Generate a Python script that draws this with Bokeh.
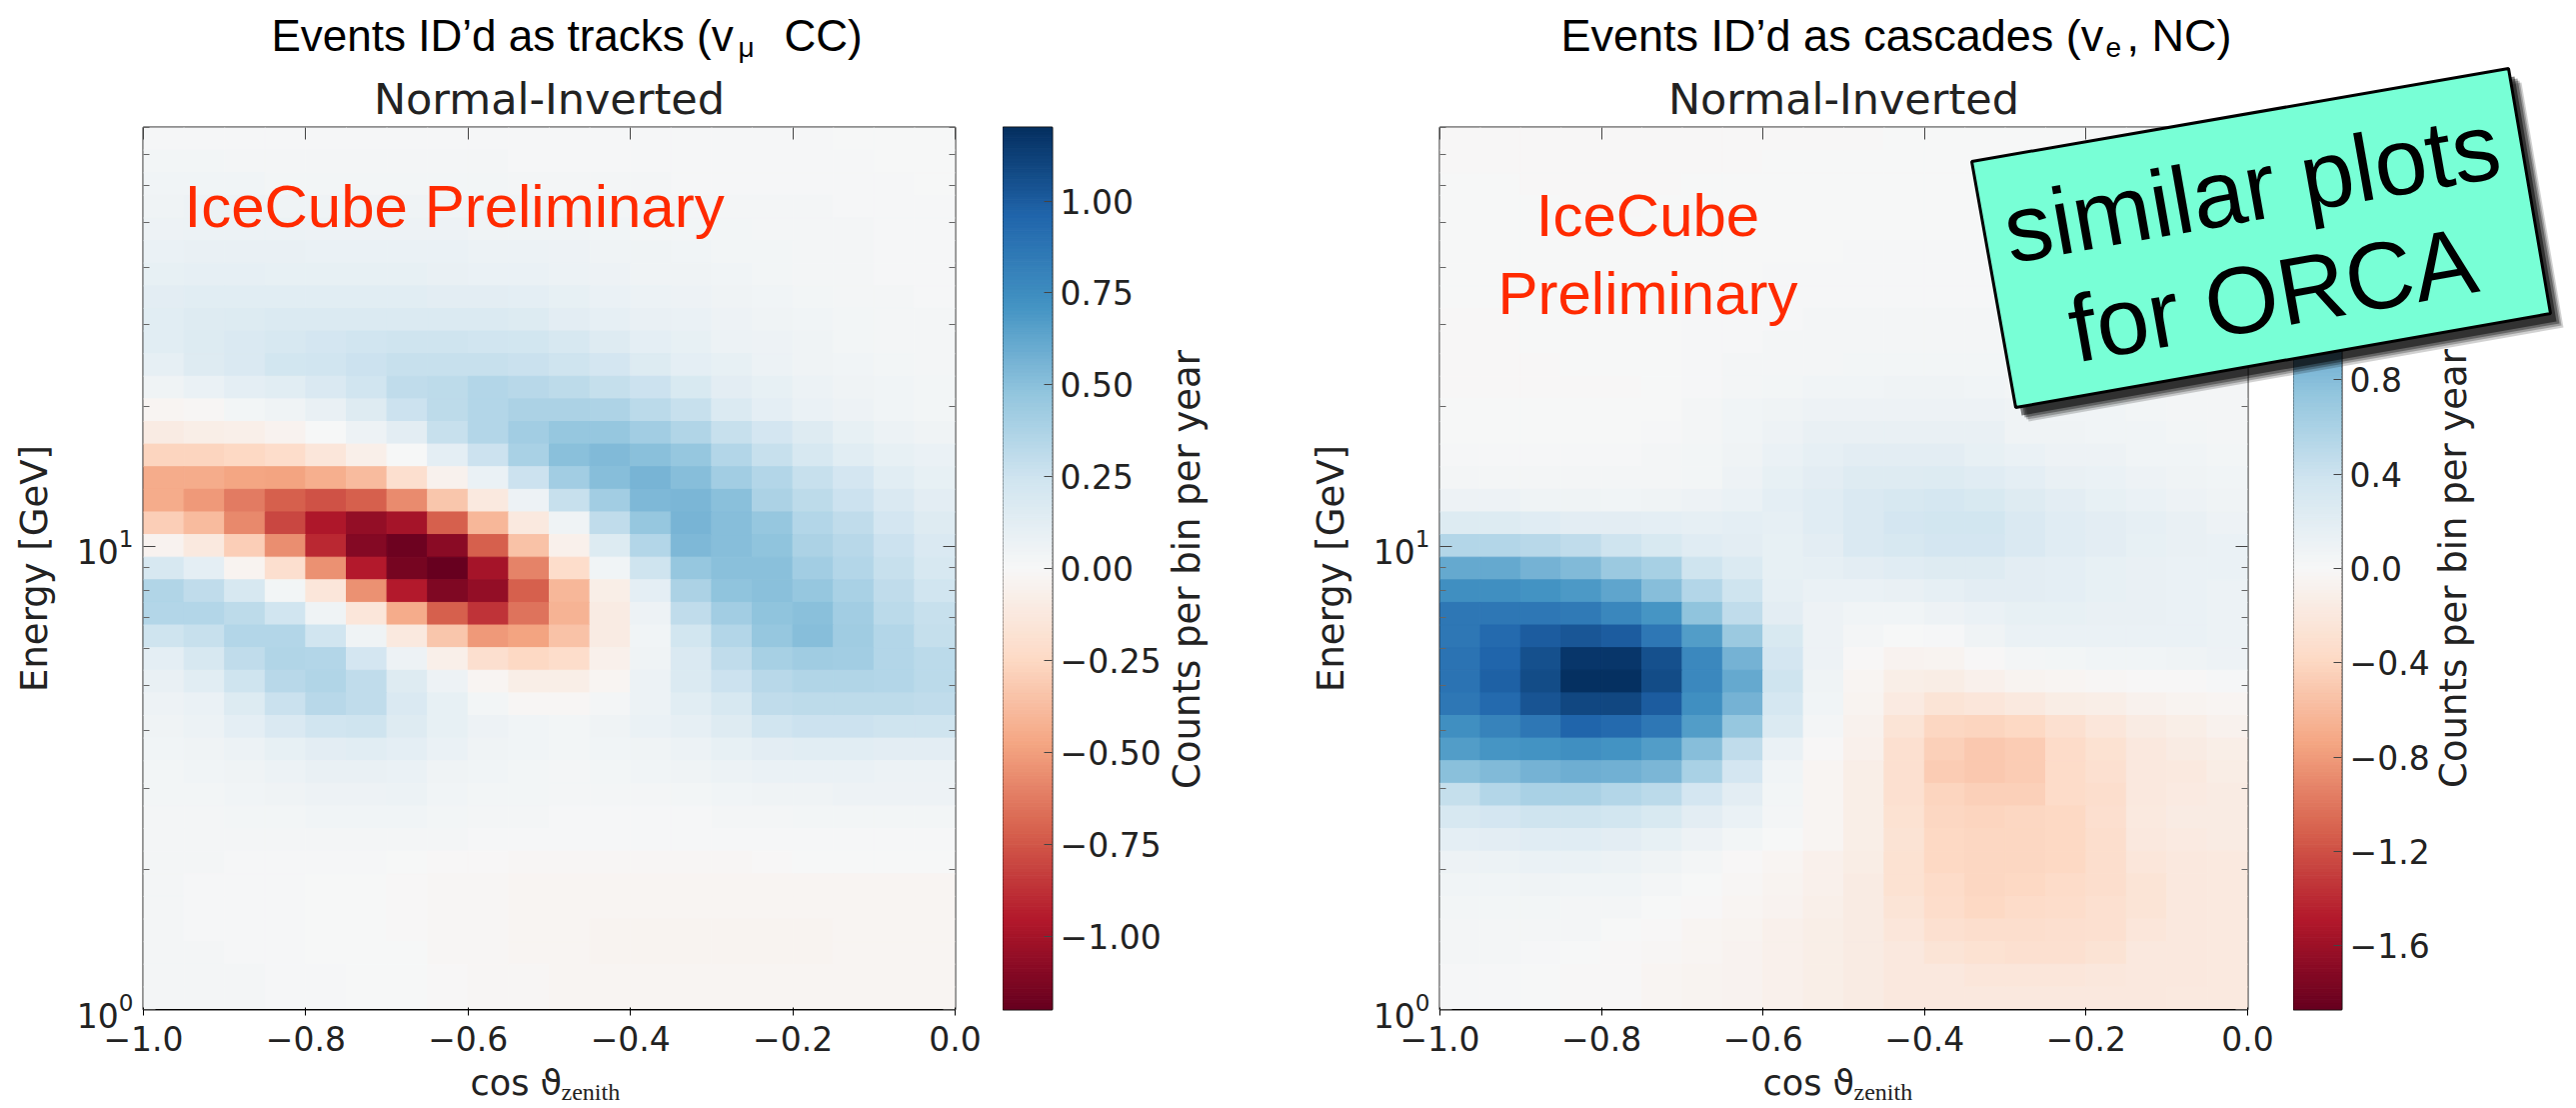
import numpy as np
from bokeh.plotting import figure
from bokeh.layouts import row
from bokeh.embed import file_html
from bokeh.resources import INLINE
from bokeh.core.properties import value
from bokeh.models import ColumnDataSource, LinearColorMapper, FixedTicker, LinearAxis, LogAxis
from bokeh.palettes import RdBu11

X_TICKS = [-1.0, -0.8, -0.6, -0.4, -0.2, 0.0]
X_LABELS = ["\u22121.0", "\u22120.8", "\u22120.6", "\u22120.4", "\u22120.2", "0.0"]
Y_MAJOR = [1, 10]
Y_MINOR = [2, 3, 4, 5, 6, 7, 8, 9, 20, 30, 40, 50, 60, 70, 80]
CB1_TICKS = [-1.0, -0.75, -0.5, -0.25, 0.0, 0.25, 0.5, 0.75, 1.0]
CB1_LABELS = ["\u22121.00", "\u22120.75", "\u22120.50", "\u22120.25", "0.00", "0.25", "0.50", "0.75", "1.00"]
CB2_TICKS = [-1.6, -1.2, -0.8, -0.4, 0.0, 0.4, 0.8, 1.2, 1.6]
CB2_LABELS = ["\u22121.6", "\u22121.2", "\u22120.8", "\u22120.4", "0.0", "0.4", "0.8", "1.2", "1.6"]
CB1_MAX = 1.2
CB2_MAX = 1.87

# rows listed from the top of the panel (highest energy) to the bottom; 20 columns
TRACKS = [
 [.015,.01,.01,.01,.01,.01,.01,.01,.01,.01,.01,.01,.01,.01,.01,.01,.01,.005,.005,.005],
 [.03,.03,.02,.02,.02,.02,.02,.02,.02,.01,.01,.01,.01,.01,.01,.01,.01,.01,0,0],
 [.04,.04,.04,.03,.03,.03,.03,.03,.03,.02,.02,.02,.02,.01,.01,.01,.01,.01,.01,0],
 [.05,.06,.06,.05,.05,.05,.05,.04,.04,.04,.03,.03,.03,.02,.02,.02,.02,.01,.01,.01],
 [.06,.07,.07,.07,.06,.06,.06,.06,.05,.05,.05,.04,.03,.03,.03,.02,.02,.02,.01,.01],
 [.08,.09,.09,.09,.08,.08,.08,.08,.07,.07,.06,.05,.05,.04,.03,.03,.02,.02,.01,.01],
 [.1,.11,.11,.1,.1,.1,.1,.09,.08,.08,.07,.06,.05,.05,.04,.03,.02,.02,.01,.01],
 [.13,.14,.14,.14,.14,.14,.14,.13,.13,.12,.1,.08,.07,.06,.05,.04,.03,.02,.02,.01],
 [.14,.15,.16,.17,.17,.17,.17,.17,.17,.16,.13,.11,.09,.08,.06,.05,.04,.03,.02,.02],
 [.14,.16,.18,.2,.22,.24,.25,.25,.24,.23,.2,.15,.12,.1,.07,.06,.05,.03,.02,.02],
 [.11,.15,.18,.23,.24,.26,.28,.28,.28,.27,.25,.22,.16,.12,.1,.07,.05,.04,.03,.02],
 [.05,.08,.12,.14,.18,.24,.3,.31,.35,.33,.31,.29,.26,.19,.13,.1,.07,.05,.04,.03],
 [-.02,-.01,.03,.05,.09,.15,.26,.31,.35,.38,.38,.37,.32,.28,.17,.12,.08,.06,.04,.03],
 [-.1,-.08,-.07,-.04,0,.06,.13,.28,.35,.42,.46,.46,.42,.36,.28,.22,.15,.1,.07,.05],
 [-.27,-.27,-.25,-.22,-.15,-.07,0,.12,.26,.39,.5,.53,.5,.46,.35,.28,.2,.14,.1,.08],
 [-.45,-.45,-.47,-.48,-.44,-.38,-.2,-.05,.08,.26,.42,.51,.56,.51,.42,.35,.28,.22,.14,.1],
 [-.45,-.52,-.62,-.72,-.76,-.72,-.57,-.33,-.12,.06,.28,.42,.54,.55,.5,.38,.31,.26,.18,.13],
 [-.3,-.38,-.58,-.8,-.97,-1.05,-1.0,-.72,-.4,-.12,.05,.3,.46,.56,.51,.46,.35,.3,.22,.15],
 [-.04,-.12,-.3,-.56,-.9,-1.1,-1.18,-1.08,-.72,-.35,-.06,.16,.35,.54,.51,.48,.38,.33,.26,.18],
 [.2,.12,-.03,-.2,-.55,-.95,-1.15,-1.2,-1.0,-.6,-.22,.04,.25,.46,.5,.5,.42,.35,.28,.2],
 [.36,.3,.2,.03,-.15,-.55,-.95,-1.12,-1.05,-.72,-.4,-.08,.12,.38,.48,.5,.46,.39,.3,.24],
 [.35,.35,.31,.24,.05,-.15,-.45,-.72,-.87,-.65,-.42,-.1,.06,.3,.42,.48,.5,.42,.32,.28],
 [.25,.28,.35,.35,.24,.05,-.12,-.33,-.52,-.48,-.35,-.1,.04,.23,.35,.46,.51,.43,.35,.29],
 [.12,.2,.3,.36,.35,.22,.06,-.07,-.2,-.25,-.22,-.06,.05,.18,.3,.4,.43,.42,.35,.32],
 [.09,.14,.25,.33,.36,.3,.15,.06,-.02,-.08,-.08,-.02,.07,.17,.26,.33,.36,.36,.35,.32],
 [.06,.08,.16,.27,.33,.3,.18,.1,.03,-.01,-.01,.02,.07,.14,.2,.3,.31,.31,.31,.3],
 [.05,.07,.12,.18,.24,.25,.15,.1,.06,.04,.03,.05,.08,.11,.15,.24,.26,.26,.25,.25],
 [.04,.05,.07,.1,.13,.14,.12,.08,.05,.04,.03,.04,.05,.07,.1,.13,.14,.14,.13,.13],
 [.03,.04,.05,.07,.09,.09,.08,.05,.04,.03,.02,.03,.04,.05,.07,.08,.08,.08,.07,.07],
 [.03,.03,.04,.05,.06,.06,.07,.04,.03,.03,.02,.02,.02,.03,.04,.05,.05,.06,.06,.06],
 [.02,.02,.03,.03,.04,.04,.04,.03,.02,.02,.01,.01,.01,.01,.02,.02,.03,.03,.03,.03],
 [.02,.02,.02,.02,.02,.02,.02,.02,.01,.01,.01,.01,.01,.01,.01,.01,.01,.01,.01,.01],
 [.02,.02,.01,.01,.01,.01,0,-.005,-.005,-.01,-.01,-.01,-.01,-.01,-.01,-.005,0,0,0,0],
 [.02,.015,.01,.01,.005,0,-.005,-.01,-.01,-.02,-.02,-.02,-.02,-.02,-.02,-.02,-.02,-.02,-.02,-.02],
 [.02,.015,.01,.01,.005,0,-.005,-.01,-.015,-.02,-.02,-.025,-.025,-.025,-.025,-.025,-.025,-.025,-.02,-.02],
 [.02,.015,.01,.01,.005,0,-.005,-.01,-.015,-.02,-.02,-.03,-.03,-.03,-.03,-.03,-.03,-.025,-.025,-.02],
 [.02,.02,.015,.01,.005,0,0,-.01,-.015,-.02,-.02,-.03,-.03,-.03,-.03,-.03,-.03,-.025,-.025,-.02],
 [.02,.02,.02,.015,.01,.005,0,-.005,-.01,-.015,-.02,-.02,-.025,-.025,-.025,-.025,-.025,-.025,-.02,-.02],
 [.02,.02,.02,.015,.01,.005,0,-.005,-.01,-.015,-.02,-.02,-.02,-.02,-.02,-.02,-.02,-.02,-.02,-.02],
]

CASCADES = [
 [0,0,0,0,0,0,0,0,0,0,0,.005,.005,.005,.005,.005,.005,.005,.005,.005],
 [0,0,0,0,0,0,0,0,.005,.005,.005,.005,.005,.005,.005,.005,.005,.005,.005,.005],
 [.005,.005,0,0,0,0,.005,.005,.005,.005,.005,.005,.01,.01,.01,.01,.005,.005,.005,.005],
 [.005,.005,.005,0,0,.005,.005,.005,.005,.01,.01,.01,.01,.01,.01,.01,.01,.01,.01,.01],
 [.005,.005,.005,.005,.005,.005,.005,.01,.01,.01,.01,.01,.01,.01,.01,.01,.01,.01,.01,.01],
 [.005,.005,.005,.005,.005,.005,.01,.01,.01,.01,.015,.015,.015,.015,.015,.015,.015,.01,.01,.01],
 [.005,.005,.005,.005,.005,.01,.01,.01,.015,.015,.015,.02,.02,.02,.02,.02,.02,.015,.015,.01],
 [.005,.005,.005,.005,.005,.01,.01,.015,.02,.02,.02,.02,.02,.02,.02,.02,.02,.02,.02,.02],
 [0,0,.005,.005,.005,.01,.015,.015,.02,.03,.03,.03,.03,.03,.03,.03,.03,.02,.02,.02],
 [0,0,.005,.005,.005,.01,.015,.02,.03,.03,.04,.04,.04,.04,.04,.03,.03,.03,.02,.02],
 [0,0,0,.005,.005,.01,.02,.03,.04,.04,.05,.05,.05,.05,.05,.04,.04,.03,.03,.02],
 [0,0,0,0,0,.01,.02,.04,.05,.06,.07,.08,.08,.07,.05,.05,.04,.04,.03,.03],
 [.005,.005,.005,.005,.005,.01,.03,.06,.08,.1,.1,.1,.1,.09,.08,.07,.06,.05,.04,.03],
 [.01,.01,.01,.01,.01,.02,.04,.07,.1,.14,.14,.14,.14,.14,.08,.08,.07,.06,.05,.04],
 [.02,.02,.02,.02,.02,.03,.05,.08,.12,.17,.2,.2,.2,.15,.12,.1,.09,.07,.06,.05],
 [.03,.03,.03,.03,.03,.04,.05,.1,.15,.2,.24,.24,.26,.23,.18,.14,.12,.1,.08,.06],
 [.09,.09,.08,.08,.07,.08,.1,.12,.18,.22,.28,.32,.33,.3,.24,.2,.15,.13,.1,.08],
 [.25,.25,.22,.2,.2,.18,.17,.18,.17,.22,.28,.34,.36,.36,.28,.22,.2,.17,.14,.1],
 [.55,.55,.52,.48,.38,.3,.23,.2,.16,.2,.28,.32,.34,.34,.28,.22,.2,.16,.14,.12],
 [.95,.95,.88,.82,.7,.62,.38,.27,.16,.17,.2,.22,.24,.24,.2,.18,.16,.14,.13,.12],
 [1.15,1.15,1.12,1.08,.98,.8,.55,.38,.17,.13,.12,.14,.17,.2,.2,.18,.16,.14,.12,.11],
 [1.35,1.35,1.35,1.32,1.22,1.1,.75,.48,.2,.1,.06,.07,.1,.12,.16,.16,.14,.14,.12,.11],
 [1.35,1.45,1.55,1.6,1.55,1.35,1.05,.7,.3,.09,.03,.01,.02,.08,.12,.13,.12,.12,.12,.11],
 [1.38,1.5,1.65,1.82,1.82,1.65,1.2,.88,.34,.09,0,-.06,-.05,-.01,.03,.05,.06,.07,.08,.09],
 [1.38,1.52,1.68,1.87,1.87,1.68,1.2,.95,.38,.08,-.03,-.13,-.14,-.1,-.05,-.03,-.02,-.01,0,.02],
 [1.35,1.45,1.62,1.7,1.7,1.55,1.15,.88,.33,.06,-.05,-.17,-.25,-.22,-.18,-.14,-.12,-.08,-.05,-.03],
 [1.15,1.25,1.35,1.5,1.45,1.35,1.05,.72,.27,.03,-.08,-.26,-.4,-.42,-.38,-.3,-.22,-.15,-.12,-.08],
 [1.05,1.1,1.12,1.15,1.12,1.05,.8,.48,.12,-.01,-.1,-.3,-.45,-.5,-.48,-.36,-.28,-.2,-.16,-.12],
 [.78,.82,.88,.92,.9,.85,.6,.34,.07,-.03,-.12,-.3,-.47,-.5,-.47,-.36,-.3,-.2,-.18,-.14],
 [.45,.55,.6,.6,.55,.5,.35,.2,.05,-.03,-.12,-.3,-.42,-.45,-.44,-.36,-.33,-.2,-.17,-.15],
 [.32,.35,.38,.38,.36,.3,.2,.12,.04,-.03,-.12,-.28,-.4,-.42,-.4,-.38,-.32,-.18,-.15,-.15],
 [.18,.2,.22,.22,.2,.16,.1,.05,.01,-.04,-.12,-.27,-.38,-.4,-.4,-.38,-.33,-.2,-.17,-.15],
 [.1,.11,.12,.12,.11,.08,.04,0,-.03,-.1,-.14,-.28,-.38,-.4,-.4,-.38,-.33,-.22,-.2,-.18],
 [.06,.07,.08,.07,.06,.03,.01,-.02,-.05,-.1,-.16,-.28,-.36,-.4,-.38,-.36,-.33,-.25,-.2,-.18],
 [.05,.05,.05,.04,.03,.01,-.01,-.03,-.07,-.11,-.16,-.26,-.34,-.38,-.36,-.34,-.3,-.25,-.2,-.18],
 [.04,.04,.04,.03,.01,-.01,-.03,-.05,-.09,-.12,-.16,-.22,-.3,-.33,-.33,-.32,-.3,-.22,-.2,-.18],
 [.03,.03,.02,.01,0,-.02,-.04,-.06,-.09,-.13,-.16,-.2,-.25,-.28,-.3,-.3,-.27,-.2,-.2,-.18],
 [.02,.02,.01,0,-.01,-.03,-.05,-.07,-.1,-.13,-.15,-.19,-.2,-.22,-.22,-.22,-.21,-.19,-.19,-.18],
 [.02,.02,.01,0,-.01,-.03,-.05,-.07,-.1,-.13,-.15,-.19,-.2,-.2,-.2,-.2,-.2,-.19,-.18,-.18],
]

# matplotlib's RdBu (red = low, blue = high), refined from the 11 anchor colours
anchors = [tuple(int(c[i:i+2], 16) for i in (1, 3, 5)) for c in reversed(RdBu11)]
pos = np.linspace(0, 1, 11)
t = np.linspace(0, 1, 256)
PALETTE = ["#%02x%02x%02x" % tuple(int(round(np.interp(u, pos, [a[k] for a in anchors]))) for k in range(3)) for u in t]

PAGE_W, PAGE_H = 2577, 1100
SHEET_H = 1108
DJ = "DejaVu Sans"
LS = "Liberation Sans"
RED = "#ff2a00"
INK = "#222222"


def style_ticks(ax):
    ax.axis_line_color = None
    ax.major_tick_in = 12
    ax.major_tick_out = 0
    ax.minor_tick_in = 6
    ax.minor_tick_out = 0
    ax.major_tick_line_color = "#444444"
    ax.minor_tick_line_color = "#666666"


def panel(z, width, left, right, top, bottom, vmax):
    z = np.array(z, dtype=float)
    nrow, ncol = z.shape
    xe = np.linspace(-1, 0, ncol + 1)
    ye = np.logspace(np.log10(80), 0, nrow + 1)
    xl, yt = np.meshgrid(xe[:-1], ye[:-1])
    xr, yb = np.meshgrid(xe[1:], ye[1:])
    src = ColumnDataSource(dict(left=xl.ravel(), right=xr.ravel(), top=yt.ravel(), bottom=yb.ravel(), v=z.ravel()))
    mapper = LinearColorMapper(palette=PALETTE, low=-vmax, high=vmax)
    p = figure(width=width, height=PAGE_H, x_range=(-1, 0), y_range=(1, 80), y_axis_type="log",
               output_backend="svg", toolbar_location=None, min_border_left=left, min_border_right=right,
               min_border_top=top, min_border_bottom=bottom, tools="")
    p.quad(left="left", right="right", top="top", bottom="bottom", source=src,
           fill_color={"field": "v", "transform": mapper},
           line_color={"field": "v", "transform": mapper}, line_width=1)
    p.grid.visible = False
    p.outline_line_color = INK
    p.outline_line_width = 2
    p.title.text = "Normal-Inverted"
    p.title.align = "center"
    p.title.text_font = DJ
    p.title.text_font_size = "43px"
    p.title.text_font_style = "normal"
    p.title.text_color = INK
    p.title.standoff = 7

    xtick = FixedTicker(ticks=X_TICKS)
    ytick = FixedTicker(ticks=Y_MAJOR, minor_ticks=Y_MINOR)
    p.xaxis.ticker = xtick
    p.xaxis.major_label_overrides = dict(zip(X_TICKS, X_LABELS))
    p.yaxis.ticker = ytick
    p.yaxis.axis_label = "Energy [GeV]"
    p.yaxis.axis_label_text_font = DJ
    p.yaxis.axis_label_text_font_style = "normal"
    p.yaxis.axis_label_text_font_size = "37px"
    p.yaxis.axis_label_text_color = INK
    p.yaxis.axis_label_standoff = 18
    for ax in (p.xaxis[0], p.yaxis[0]):
        ax.major_label_text_font = DJ
        ax.major_label_text_font_size = "33px"
        ax.major_label_text_color = INK
        ax.major_label_standoff = 10
    top_ax = LinearAxis(ticker=xtick, major_label_overrides={v: "" for v in X_TICKS}, major_label_standoff=0)
    right_ax = LogAxis(ticker=ytick, major_label_overrides={v: "" for v in Y_MAJOR}, major_label_standoff=0)
    p.add_layout(top_ax, "above")
    p.add_layout(right_ax, "right")
    for ax in (p.xaxis[0], p.yaxis[0], top_ax, right_ax):
        style_ticks(ax)
    p.xaxis[0].minor_tick_line_color = None
    top_ax.minor_tick_line_color = None
    return p


def colorbar(width, bar, top, bottom, vmax, ticks, labels):
    mapper = LinearColorMapper(palette=PALETTE, low=-vmax, high=vmax)
    edges = np.linspace(-vmax, vmax, 257)
    src = ColumnDataSource(dict(bottom=edges[:-1], top=edges[1:], v=(edges[:-1] + edges[1:]) / 2))
    c = figure(width=width, height=PAGE_H, x_range=(0, 1), y_range=(-vmax, vmax), output_backend="svg",
               toolbar_location=None, min_border_left=0, min_border_right=width - bar, min_border_top=top,
               min_border_bottom=bottom, tools="", x_axis_location=None, y_axis_location="right")
    c.quad(left=0, right=1, top="top", bottom="bottom", source=src,
           fill_color={"field": "v", "transform": mapper},
           line_color={"field": "v", "transform": mapper}, line_width=1)
    c.grid.visible = False
    c.outline_line_color = "#111111"
    c.outline_line_width = 2
    ax = c.yaxis[0]
    ax.ticker = FixedTicker(ticks=ticks)
    ax.major_label_overrides = dict(zip(ticks, labels))
    style_ticks(ax)
    ax.major_tick_in = 8
    ax.major_label_text_font = DJ
    ax.major_label_text_font_size = "33px"
    ax.major_label_text_color = INK
    ax.major_label_standoff = 8
    return c


p1 = panel(TRACKS, 1003, 143, 48, 123, 89, CB1_MAX)
c1 = colorbar(297, 49, 123, 89, CB1_MAX, CB1_TICKS, CB1_LABELS)
p2 = panel(CASCADES, 994, 140, 46, 127, 91, CB2_MAX)
c2 = colorbar(270, 48, 127, 91, CB2_MAX, CB2_TICKS, CB2_LABELS)

# free texts and the pasted note live on a transparent sheet over the whole page, in page pixels
sheet = figure(width=PAGE_W, height=SHEET_H, x_range=(0, PAGE_W), y_range=(SHEET_H, 0), output_backend="svg",
               toolbar_location=None, tools="", min_border=0, x_axis_location=None, y_axis_location=None,
               styles={"position": "absolute", "left": "0px", "top": "0px"})
sheet.grid.visible = False
sheet.outline_line_color = None
sheet.background_fill_color = None
sheet.border_fill_color = None


def put(x, y, text, size, color="#000000", font=LS, angle=0, align="left", baseline="alphabetic"):
    if baseline == "alphabetic":
        # the backend draws this baseline about 0.3 em low
        a = np.radians(angle)
        x, y = x - 0.3 * size * np.sin(a), y - 0.3 * size * np.cos(a)
    sheet.text(x=[x], y=[y], text=[text], text_font=value(font), text_font_size=f"{size}px", text_color=color,
               angle=angle, angle_units="deg", text_align=align, text_baseline=baseline)


put(271, 48, "Events ID\u2019d as tracks (v", 44)
put(738, 55, "\u03bc", 28)
put(784, 48, "CC)", 44)
put(184, 224, "IceCube Preliminary", 60, color=RED)
put(1187, 569, "Counts per bin per year", 37, font=DJ, color=INK, angle=90, align="center", baseline="middle")
put(470, 1093, "cos \u03d1", 35, font=DJ, color=INK)
put(561, 1099, "zenith", 24, font="Liberation Serif", color=INK)

put(1561, 48, "Events ID\u2019d as cascades (v", 45)
put(2106, 55, "e", 28)
put(2127, 48, ", NC)", 45)
put(1648, 233, "IceCube", 60, color=RED, align="center")
put(1648, 311, "Preliminary", 60, color=RED, align="center")
put(2454, 568, "Counts per bin per year", 37, font=DJ, color=INK, angle=90, align="center", baseline="middle")
put(1763, 1093, "cos \u03d1", 35, font=DJ, color=INK)
put(1854, 1099, "zenith", 24, font="Liberation Serif", color=INK)

NOTE_X = [1972, 2509, 2551, 2016]
NOTE_Y = [161, 68, 313, 407]
for dx, dy, alpha in [(13, 14, .18), (11, 12, .25), (9, 10, .35), (6, 8, .5)]:
    sheet.patch(x=[v + dx for v in NOTE_X], y=[v + dy for v in NOTE_Y], fill_color="#000000", fill_alpha=alpha,
                line_color=None)
sheet.patch(x=NOTE_X, y=NOTE_Y, fill_color="#78ffd6", line_color="#000000", line_width=3)
put(2257, 215, "similar plots", 95, angle=10, align="center")
put(2278, 322, "for ORCA", 95, angle=10, align="center")

page = row(p1, c1, p2, c2, spacing=0)
open("out.html", "w").write(file_html([page, sheet], INLINE))
